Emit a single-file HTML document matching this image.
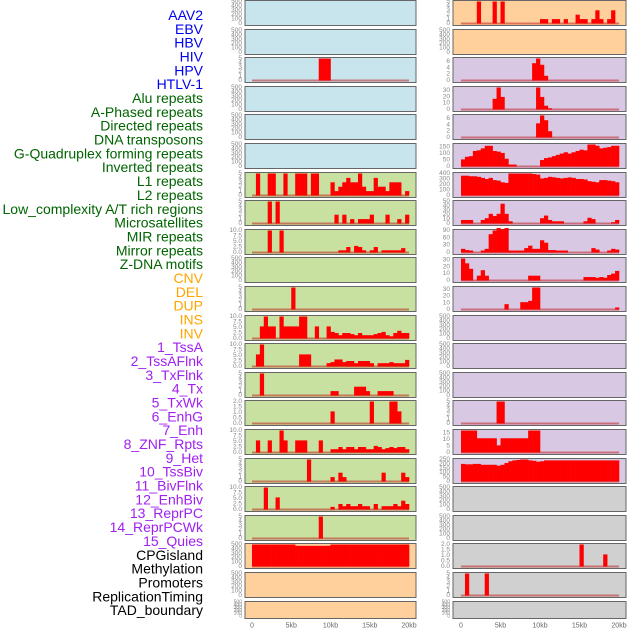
<!DOCTYPE html>
<html><head><meta charset="utf-8"><style>
html,body{margin:0;padding:0;background:#fff;}
svg{display:block;font-family:"Liberation Sans",sans-serif;}
</style></head><body>
<svg id="chart" width="630" height="630" viewBox="0 0 630 630" xmlns="http://www.w3.org/2000/svg"></svg>
<script>
const labels=["AAV2","EBV","HBV","HIV","HPV","HTLV-1","Alu repeats","A-Phased repeats","Directed repeats","DNA transposons","G-Quadruplex forming repeats","Inverted repeats","L1 repeats","L2 repeats","Low_complexity A/T rich regions","Microsatellites","MIR repeats","Mirror repeats","Z-DNA motifs","CNV","DEL","DUP","INS","INV","1_TssA","2_TssAFlnk","3_TxFlnk","4_Tx","5_TxWk","6_EnhG","7_Enh","8_ZNF_Rpts","9_Het","10_TssBiv","11_BivFlnk","12_EnhBiv","13_ReprPC","14_ReprPCWk","15_Quies","CPGisland","Methylation","Promoters","ReplicationTiming","TAD_boundary"];
const labelColors=["#0000ee","#0000ee","#0000ee","#0000ee","#0000ee","#0000ee","#006400","#006400","#006400","#006400","#006400","#006400","#006400","#006400","#006400","#006400","#006400","#006400","#006400","#ffa500","#ffa500","#ffa500","#ffa500","#ffa500","#a020f0","#a020f0","#a020f0","#a020f0","#a020f0","#a020f0","#a020f0","#a020f0","#a020f0","#a020f0","#a020f0","#a020f0","#a020f0","#a020f0","#a020f0","#000","#000","#000","#000","#000"];
const xTickValues=[0,5,10,15,20];
const xTickLabels=["0","5kb","10kb","15kb","20kb"];
const ticksEmpty=[0,100,200,300,400,500];
const ticks5=[0,1,2,3,4,5];
const ticks10=[0,2.5,5,7.5,10];
const ticks2=[0,0.5,1,1.5,2];
const ticks7=[0,2,4,6];
const ticks30=[0,10,20,30];
const ticks150=[0,50,100,150];
const ticks400=[0,100,200,300,400];
const ticks50=[0,10,20,30,40,50];
const ticks90=[0,30,60,90];
const ticks15=[0,5,10,15];
const ticks250=[0,50,100,150,200,250];
// left column series (40 bins of 0.5kb)
const L2=[0,0,0,0,0,0,0,0,0,0,0,0,0,0,0,0,0,5,5,5,0,0,0,0,0,0,0,0,0,0,0,0,0,0,0,0,0,0,0,0];
const L6=[0,5,0,0,5,5,0,0,5,0,0,5,5,5,0,5,5,0,0,0,3,1,2,3,4,3,3,5,2,1,1,4,2,2,1,3,3,3,0,1];
const L7=[0,0,0,0,5,0,5,0,0,0,0,0,0,0,0,0,0,0,0,0,0,2,0,2,0,1,0,1,1,1,2,0,0,0,2,0,0,1,0,2];
const L8=[0,0,0,0,10,0,0,10,0,0,0,0,0,0,0,0,0,0,0,0,0,0,1,1,2.5,0,3,2.5,1,0,1,2.5,0,1,1,1,1,1,2,0];
const L10=[0,0,0,0,0,0,0,0,0,0,5,0,0,0,0,0,0,0,0,0,0,0,0,0,0,0,0,0,0,0,0,0,0,0,0,0,0,0,0,0];
const L11=[0,0,5.5,10,5.5,5.5,0,10,5.5,5.5,5.5,5.5,10,10,0,0,5.5,0,0,5.5,3,2.5,1.5,2.5,2.5,2,1.5,2.5,1.5,1.5,1.5,2,2.5,3,1.5,1,2.5,3.5,2.5,2.5];
const L12=[0,5.5,10,0,0,0,0,0,0,0,0,0,5.5,5.5,5.5,0,0,0,0,1.5,2,3.2,3.2,2,2.5,2.5,1.5,2.5,2.5,2.5,1.5,0,1.5,1.5,1.5,2,1.5,1.5,1.5,3];
const L13=[0,0,5,0,0,0,0,0,0,0,0,0,0,0,0,0,0,0,0,0,1,1,0,0,0,0,2,2,2,1,0,0,1,1,1,1,0,0,0,0];
const L14=[0,0,0,0,0,0,0,0,0,0,0,0,0,0,0,0,0,0,0,0,1.1,0,0,0,0,0,0,0,0,0,2,0,0,0,0,2,2,1.1,0,0];
const L15=[0,5.5,0,0,5.5,0,0,10,5.5,0,0,5.5,5.5,5.5,0,0,0,5.5,0,0,1.5,1.5,2.5,1.5,2.5,2.5,1.5,2.5,2.5,1.5,1.5,3,2.5,1.5,2,2.5,2,2.5,2.5,1.5];
const L16=[0,0,0,0,0,0,0,0,0,0,0,0,0,0,5,0,0,0,0,0,1,0,2,1,0,0,0,0,0,0,0,0,0,2,0,0,0,0,2,1];
const L17=[0,0,0,10,0,0,5.5,0,0,0,0,0,0,0,0,0,0,0,0,0,1.2,0,2.5,1.5,2.5,1.5,1.5,2.5,1.5,1.5,0,2.5,0,1.5,1.5,1.5,2.5,1.5,4,2.5];
const L18=[0,0,0,0,0,0,0,0,0,0,0,0,0,0,0,0,0,5,0,0,0,0,0,0,0,0,0,0,0,0,0,0,0,0,0,0,0,0,0,0];
const L19=[500,500,500,500,500,500,500,500,500,500,500,470,470,470,470,470,470,470,470,470,500,500,500,500,500,500,500,500,500,500,500,500,500,500,500,500,500,500,500,500];
// right column series
const R0=[0,0,0,0,5,0,0,0,5,0,5,0,0,0,0,0,0,0,0,0,1,1,0,1,1,0,1,0,0,2,1,1,0,1,3,1,0,1,3,0];
const R2=[0,0,0,0,0,0,0,0,0,0,0,0,0,0,0,0,0,0,5.5,7,5,1.5,0,0,0,0,0,0,0,0,0,0,0,0,0,0,0,0,0,0];
const R3=[0,0,0,0,0,0,0,0,17,35,20,0,0,0,0,0,0,0,0,35,20,6,2,0,0,0,0,0,0,0,0,0,0,0,0,0,0,0,0,0];
const R4=[0,0,0,0,0,0,0,0,0,0,0,0,0,0,0,0,0,0,0,4.5,7,5.5,2,0,0,0,0,0,0,0,0,0,0,0,0,0,0,0,0,0];
const R5=[55,75,80,120,125,140,160,160,120,115,105,60,15,15,0,0,0,0,0,0,50,65,70,80,90,100,110,100,110,120,130,125,170,170,160,140,145,150,160,160];
const R6=[360,360,350,350,340,320,300,320,280,270,240,230,400,400,400,400,400,400,390,380,310,320,340,330,320,310,320,330,320,300,300,290,260,250,240,280,280,270,260,240];
const R7=[8,8,8,0,0,8,12,22,17,22,45,22,5,0,0,0,0,0,0,0,12,18,8,5,5,5,0,0,0,0,0,5,13,10,0,0,0,0,3,8];
const R8=[15,10,8,0,0,8,15,75,90,100,95,100,8,8,8,8,18,28,15,15,50,40,10,10,8,8,8,0,0,0,0,0,0,18,12,0,0,8,15,12];
const R9=[32,25,17,0,7,15,7,0,0,0,0,0,0,0,0,0,0,7,7,7,0,0,0,0,0,0,0,0,0,0,0,5,5,5,4,5,4,8,10,14];
const R10=[0,0,0,0,0,0,0,0,0,0,0,8,0,0,0,11,11,13,33,33,0,0,0,0,0,0,0,0,0,0,0,0,0,0,0,0,0,0,0,3];
const R14=[0,0,0,0,0,0,0,0,0,5,5,0,0,0,0,0,0,0,0,0,0,0,0,0,0,0,0,0,0,0,0,0,0,0,0,0,0,0,0,0];
const R15=[17,17,17,17,11,11,11,11,11,5.5,11,11,11,11,11,11,11,17,17,17,0,0,0,0,0,0,0,0,0,0,0,0,0,0,0,0,0,0,0,0];
const R16=[200,195,195,200,200,190,190,190,190,180,190,210,230,240,245,250,250,240,235,225,230,240,240,240,240,240,240,240,240,240,240,240,240,240,240,240,240,240,240,240];
const R19=[0,0,0,0,0,0,0,0,0,0,0,0,0,0,0,0,0,0,0,0,0,0,0,0,0,0,0,0,0,0,2,0,0,0,0,0,1.1,0,0,0];
const R20=[0,5,0,0,0,0,5,0,0,0,0,0,0,0,0,0,0,0,0,0,0,0,0,0,0,0,0,0,0,0,0,0,0,0,0,0,0,0,0,0];

const BLUE="#c8e4ec",GREEN="#c8e0a0",ORANGE="#ffd09c",PURPLE="#d8c8e4",GREY="#d0d0d0";
const leftPanels=[
 [BLUE,null,ticksEmpty],[BLUE,null,ticksEmpty],[BLUE,L2,ticks5],[BLUE,null,ticksEmpty],[BLUE,null,ticksEmpty],[BLUE,null,ticksEmpty],
 [GREEN,L6,ticks5],[GREEN,L7,ticks5],[GREEN,L8,ticks10],[GREEN,null,ticksEmpty],[GREEN,L10,ticks5],[GREEN,L11,ticks10],[GREEN,L12,ticks10],
 [GREEN,L13,ticks5],[GREEN,L14,ticks2],[GREEN,L15,ticks10],[GREEN,L16,ticks5],[GREEN,L17,ticks10],[GREEN,L18,ticks5],
 [ORANGE,L19,ticksEmpty],[ORANGE,null,ticksEmpty],[ORANGE,null,ticksEmpty]];
const rightPanels=[
 [ORANGE,R0,ticks5],[ORANGE,null,ticksEmpty],[PURPLE,R2,ticks7],[PURPLE,R3,ticks30],[PURPLE,R4,ticks7],[PURPLE,R5,ticks150],
 [PURPLE,R6,ticks400],[PURPLE,R7,ticks50],[PURPLE,R8,ticks90],[PURPLE,R9,ticks30],[PURPLE,R10,ticks30],[PURPLE,null,ticksEmpty],
 [PURPLE,null,ticksEmpty],[PURPLE,null,ticksEmpty],[PURPLE,R14,ticks5],[PURPLE,R15,ticks15],[PURPLE,R16,ticks250],
 [GREY,null,ticksEmpty],[GREY,null,ticksEmpty],[GREY,R19,ticks2],[GREY,R20,ticks5],[GREY,null,ticksEmpty]];
const ymaxOverride={"R2":7,"R3":35,"R4":7,"R5":170,"R9":32,"R10":33,"R15":17};

const NS="http://www.w3.org/2000/svg";
const svg=document.getElementById('chart');
function mk(tag,attrs,parent){const e=document.createElementNS(NS,tag);for(const k in attrs)e.setAttribute(k,attrs[k]);(parent||svg).appendChild(e);return e;}

labels.forEach((t,i)=>{
 const e=mk('text',{x:203,y:15+i*13.84,'text-anchor':'end','dominant-baseline':'central','font-size':14,fill:labelColors[i]});
 e.textContent=t;
 
 
});

function rowTop(r){return Math.round(r*28.6);}
function rowH(r){return r===21?17:25;}

function drawCol(panels,colName,px,pw,x0,x20,overrideKeys){
 const xs=kb=>x0+(x20-x0)*kb/20;
 panels.forEach((p,r)=>{
  const [bg,vals,ticks]=p;
  const top=rowTop(r),h=rowH(r),bot=top+h;
  const g=mk('g',{});
  
  
  const rect=mk('rect',{x:px,y:top+0.5,width:pw,height:h,fill:bg,stroke:'#666','stroke-width':1},g);
  
  
  let ymax=ticks[ticks.length-1];
  const key=overrideKeys[r];
  if(key && ymaxOverride[key]) ymax=ymaxOverride[key];
  const zeroY=bot-1.5, topY=top+1.5;
  const ys=v=>zeroY-(zeroY-topY)*v/ymax;
  const dec=ticks.some(t=>t%1!==0);
  ticks.forEach(t=>{
   const tl=mk('text',{x:px-3,y:ys(t),'text-anchor':'end','dominant-baseline':'central','font-size':h<20?5:6.5,fill:'#888'},g);
   tl.textContent=dec?t.toFixed(1):String(t);
   
   
  });
  if(vals){
   const bl=mk('rect',{x:xs(0),y:zeroY-1,width:xs(20)-xs(0),height:2,fill:'rgba(190,20,20,0.5)'},g);
   
   
   const bw=xs(0.5)-xs(0);
   vals.forEach((v,i)=>{
    if(v<=0)return;
    const b=mk('rect',{x:xs(i*0.5),y:ys(v),width:bw+0.3,height:zeroY-ys(v),fill:'#ff0000'},g);
    
    
   });
  }
 });
 xTickValues.forEach((v,i)=>{
  const t=mk('text',{x:xs(v),y:626,'text-anchor':'middle','dominant-baseline':'central','font-size':7,fill:'#666'});
  t.textContent=xTickLabels[i];
  
  
 });
}
drawCol(leftPanels,'left',245,171,252,409,{});
drawCol(rightPanels,'right',453,173,461,619,{2:"R2",3:"R3",4:"R4",5:"R5",9:"R9",10:"R10",15:"R15"});
</script>
</body></html>
